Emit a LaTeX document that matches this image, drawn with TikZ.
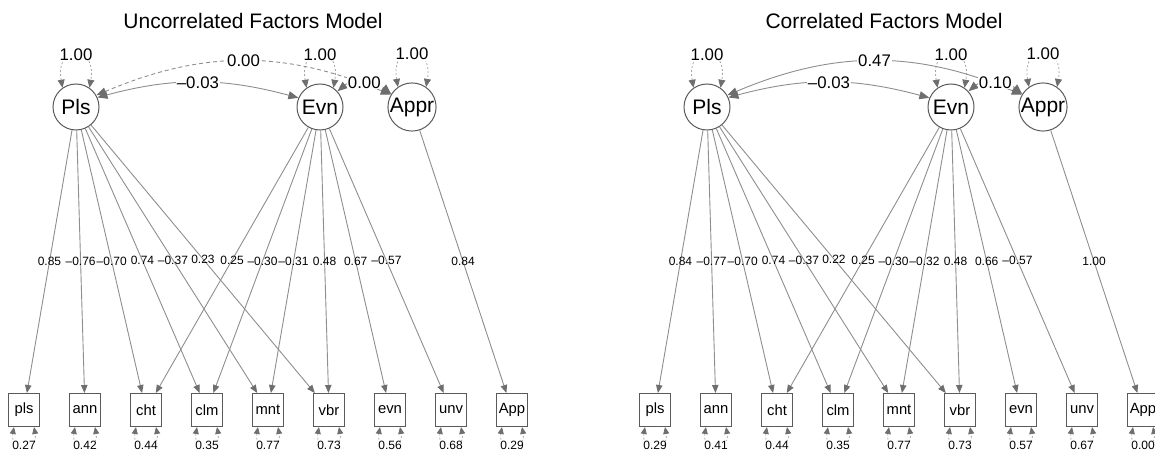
\documentclass[tikz,border=0pt]{standalone}
\usepackage{fontspec}
\setmainfont{Liberation Sans}
\usetikzlibrary{arrows.meta}
\definecolor{edgegray}{HTML}{8E8E8E}
\definecolor{headgray}{HTML}{6E6E6E}
\definecolor{framegray}{HTML}{5A5A5A}

\begin{document}
\begin{tikzpicture}[x=0.5pt,y=0.5pt,
    lat/.style={circle,draw=framegray,line width=0.5pt,minimum size=23pt,inner sep=0pt,
      font=\fontsize{10.5}{12}\selectfont},
    obs/.style={rectangle,draw=framegray,line width=0.5pt,minimum width=15.5pt,minimum height=16.5pt,
      inner sep=0pt,font=\fontsize{7.4}{8}\selectfont},
    title/.style={font=\fontsize{10.5}{12}\selectfont},
    load/.style={draw=edgegray,line width=0.45pt,-{Triangle[length=4pt,width=3.2pt,color=headgray]}},
    cov/.style={draw=edgegray,line width=0.45pt,
      {Triangle[length=5pt,width=4pt,color=headgray]}-{Triangle[length=5pt,width=4pt,color=headgray]}},
    fixed/.style={dash pattern=on 2pt off 1.5pt},
    varloop/.style={draw=edgegray!80,line width=0.4pt,dash pattern=on 1pt off 1pt,
      {Triangle[length=4pt,width=3.5pt,color=headgray]}-{Triangle[length=4pt,width=3.5pt,color=headgray]}},
    resloop/.style={draw=edgegray!70,line width=0.4pt,dash pattern=on 1pt off 1pt,
      {Triangle[length=3.5pt,width=3pt,color=headgray]}-{Triangle[length=3.5pt,width=3pt,color=headgray]}},
    covlab/.style={fill=white,inner sep=0.5pt,font=\fontsize{8.4}{9}\selectfont},
    loadlab/.style={inner sep=0pt,font=\fontsize{6}{7}\selectfont},
    reslab/.style={fill=white,inner sep=0.3pt,font=\fontsize{6}{7}\selectfont}]
\clip (0,0) rectangle (1155,451);

% uncorrelated model
\begin{scope}[name prefix=L-]
  \node[title] (title) at (253,430) {Uncorrelated Factors Model};
  \node[lat] (Pls) at (76,344) {Pls};
  \node[lat] (Evn) at (320,344) {Evn};
  \node[lat] (Appr) at (412,344) {Appr};
  \foreach \n/\r [count=\i from 0] in {pls/0.27,ann/0.42,cht/0.44,clm/0.35,mnt/0.77,vbr/0.73,evn/0.56,unv/0.68,App/0.29}{
    \node[obs] (\n) at (24+61*\i,41) {\n};
    \draw[resloop] ([xshift=-5pt]\n.south) .. controls +(-100:25) and +(-80:25) .. ([xshift=5pt]\n.south)
      node[midway,reslab] {\r};
  }
  \foreach \f in {Pls,Evn,Appr}
    \draw[varloop] (\f.125) .. controls +(100:45) and +(80:45) .. (\f.55) node[midway,covlab] {1.00};
  \foreach \o/\w in {pls/0.85,ann/--0.76,cht/--0.70,clm/0.74,mnt/--0.37,vbr/0.23}
    \draw[load] (Pls) -- (\o) node[midway,loadlab] {\w};
  \foreach \o/\w in {cht/0.25,clm/--0.30,mnt/--0.31,vbr/0.48,evn/0.67,unv/--0.57}
    \draw[load] (Evn) -- (\o) node[midway,loadlab] {\w};
  \draw[load] (Appr) -- (App) node[midway,loadlab] {0.84};
  \draw[cov,fixed] (Pls.30) to[out=23,in=157] node[covlab] {0.00} (Appr.150);
  \draw[cov] (Pls.24) to[out=15,in=165] node[covlab] {--0.03} (Evn.157);
  \draw[cov,fixed] (Evn.42) to[out=40,in=140] node[covlab] {0.00} (Appr.148);
\end{scope}

% correlated model
\begin{scope}[xshift=315.5pt,name prefix=R-]
  \node[title] (title) at (253,430) {Correlated Factors Model};
  \node[lat] (Pls) at (76,344) {Pls};
  \node[lat] (Evn) at (320,344) {Evn};
  \node[lat] (Appr) at (412,344) {Appr};
  \foreach \n/\r [count=\i from 0] in {pls/0.29,ann/0.41,cht/0.44,clm/0.35,mnt/0.77,vbr/0.73,evn/0.57,unv/0.67,App/0.00}{
    \node[obs] (\n) at (24+61*\i,41) {\n};
    \draw[resloop] ([xshift=-5pt]\n.south) .. controls +(-100:25) and +(-80:25) .. ([xshift=5pt]\n.south)
      node[midway,reslab] {\r};
  }
  \foreach \f in {Pls,Evn,Appr}
    \draw[varloop] (\f.125) .. controls +(100:45) and +(80:45) .. (\f.55) node[midway,covlab] {1.00};
  \foreach \o/\w in {pls/0.84,ann/--0.77,cht/--0.70,clm/0.74,mnt/--0.37,vbr/0.22}
    \draw[load] (Pls) -- (\o) node[midway,loadlab] {\w};
  \foreach \o/\w in {cht/0.25,clm/--0.30,mnt/--0.32,vbr/0.48,evn/0.66,unv/--0.57}
    \draw[load] (Evn) -- (\o) node[midway,loadlab] {\w};
  \draw[load] (Appr) -- (App) node[midway,loadlab] {1.00};
  \draw[cov] (Pls.30) to[out=23,in=157] node[covlab] {0.47} (Appr.150);
  \draw[cov] (Pls.24) to[out=15,in=165] node[covlab] {--0.03} (Evn.157);
  \draw[cov] (Evn.42) to[out=40,in=140] node[covlab] {0.10} (Appr.148);
\end{scope}
\end{tikzpicture}
\end{document}
